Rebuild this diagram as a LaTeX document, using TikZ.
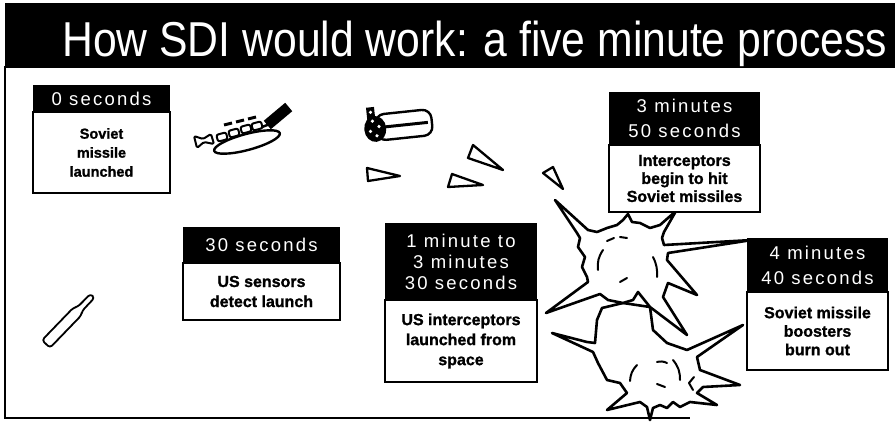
\documentclass[tikz,border=0pt]{standalone}
\usepackage{fontspec}
\setmainfont{Liberation Sans}
\newcommand\headfont[1]{\fontsize{18.5}{#1}\selectfont\addfontfeature{LetterSpace=12}}
\newcommand\bodyfont[2]{\fontsize{#1}{#2}\selectfont\bfseries\addfontfeature{FakeBold=1.2}}
\begin{document}
\begin{tikzpicture}[x=1pt,y=-1pt,
  hdr/.style={fill=black,text=white,inner sep=0pt,outer sep=0pt,anchor=north west,align=center},
  bodybox/.style={draw=black,line width=1.4pt,fill=white,inner sep=0pt,outer sep=0pt,anchor=north west,align=center},
  ink/.style={line width=2.3pt,line join=round,line cap=round},
  boom/.style={ink,line width=2.6pt,fill=white},
  dart/.style={ink,fill=white}]
\useasboundingbox (0,0) rectangle (895,425);

% title bar and frame
\fill (5,3) rectangle (895,68);
\node[anchor=base west,inner sep=0pt,text=white] (title) at (62,57)
  {\resizebox{825pt}{\height}{\fontsize{49}{49}\selectfont How SDI would work: a five minute process}};
\draw[line width=1.3pt] (5,66) -- (5,418) -- (690,418);

% launched missile
\begin{scope}[shift={(46,344)},rotate=46]
  \draw[ink,line width=1.8pt,rounded corners=3pt]
    (0,-5.5) -- (45,-5.5) -- (49,-3) -- (67,-2.8) -- (67,2.8) -- (49,3) -- (45,5.5) -- (0,5.5) -- cycle;
\end{scope}

% sensor satellite with ring
\draw[ink,line width=2.4pt,rotate around={15:(247,142)}] (247,142) ellipse [x radius=34,y radius=8];
\fill[rotate around={40:(278,116)}] (264,110.5) rectangle (292,121.5);
\draw[ink,line width=2pt,rounded corners=1.5pt]
  (194,136) -- (203,139) -- (211,134) -- (214,144) -- (204,142) -- (197,148) -- cycle;
\foreach \px/\py in {222/137,234/133,246/129,257/126}
  \draw[ink,line width=2pt,rounded corners=2pt,rotate around={15:(\px,\py)}] (\px-5,\py-3.5) rectangle (\px+5,\py+3.5);
\foreach \px/\py in {228/124,240/121,252/118}
  \draw[line width=3pt] (\px-4,\py+1) -- (\px+4,\py-1);
\draw[line width=2.5pt] (262,127) -- (270,124);

% space-based launcher
\begin{scope}[rotate around={6:(403,125)}]
  \draw[ink,line width=2.4pt,fill=white,rounded corners=9pt] (376,112) rectangle (432,138);
  \draw[line width=3pt] (384,125) -- (428,125);
  \fill (375,126) ellipse [x radius=11,y radius=13];
  \fill (368,104) rectangle (376,117);
  \foreach \px/\py in {372/109,373/118,379/124,370/128,376/133}
    \fill[white] (\px,\py) circle [radius=1.8];
\end{scope}

% interceptors
\draw[dart] (367,168) -- (368,181) -- (400,176) -- cycle;
\draw[dart] (452,174) -- (448,187) -- (483,185) -- cycle;
\draw[dart] (473,145) -- (468,158) -- (503,170) -- cycle;
\draw[dart] (543,173) -- (553,167) -- (563,189) -- cycle;

% lower burst
\draw[boom] (552,333) -- (587,342) -- (595,343) -- (597,320) -- (602,308) -- (623,303) -- (650,307)
  -- (653,330) -- (667,343) -- (687,350) -- (743,325) -- (697,357) -- (700,370) -- (740,385)
  -- (703,387) -- (697,393) -- (717,405) -- (690,402) -- (680,407) -- (673,402) -- (667,408)
  -- (660,405) -- (653,408) -- (650,420) -- (647,407) -- (640,402) -- (607,410) -- (627,393)
  -- (620,383) -- (607,380) -- (598,363) -- (593,352) -- cycle;
\draw[ink,line width=2pt] (637,365) to[bend right=20] (630,381);
\draw[ink,line width=2pt] (657,362) to[bend left=20] (667,363);
\draw[ink,line width=2pt] (673,360) to[bend left=20] (680,380);
\draw[ink,line width=2pt] (657,384) -- (665,387);
\draw[ink,line width=2pt] (694,377) -- (689,383) -- (693,390);

% upper burst
\draw[boom] (555,200) -- (588,230) -- (597,232) -- (607,228) -- (617,225) -- (623,220) -- (628,214)
  -- (632,222) -- (640,223) -- (650,228) -- (660,225) -- (676,211) -- (664,232) -- (662,238)
  -- (664,245) -- (752,240) -- (668,253) -- (667,260) -- (697,295) -- (668,283) -- (663,297)
  -- (687,335) -- (650,307) -- (638,292) -- (633,300) -- (623,303) -- (608,300) -- (600,294)
  -- (546,313) -- (588,282) -- (587,277) -- (582,267) -- (585,257) -- (578,247) -- (580,238)
  -- (577,233) -- cycle;
\draw[ink,line width=2pt] (607,241) -- (614,238);
\draw[ink,line width=2pt] (620,237) -- (627,238);
\draw[ink,line width=2pt] (603,250) to[bend right=20] (598,270);
\draw[ink,line width=2pt] (653,257) to[bend left=15] (657,277);
\draw[ink,line width=2pt] (620,282) -- (627,278);

% time boxes
\node[hdr,minimum width=137pt,minimum height=27pt,font={\headfont{24}}] (h1) at (33,85) {0 seconds};
\node[bodybox,minimum width=137pt,minimum height=81pt,font={\bodyfont{14.5}{19}}] (b1) at (h1.south west) {Soviet\\missile\\launched};

\node[hdr,minimum width=157pt,minimum height=36pt,font={\headfont{24}}] (h2) at (183,227) {30 seconds};
\node[bodybox,minimum width=157pt,minimum height=57pt,font={\bodyfont{16}{20}}] (b2) at (h2.south west) {US sensors\\detect launch};

\node[hdr,minimum width=152pt,minimum height=77pt,font={\headfont{21}}] (h3) at (385,223) {1 minute to\\3 minutes\\30 seconds};
\node[bodybox,minimum width=152pt,minimum height=82pt,font={\bodyfont{16}{20}}] (b3) at (h3.south west) {US interceptors\\launched from\\space};

\node[hdr,minimum width=151pt,minimum height=53pt,font={\headfont{25}}] (h4) at (609,92) {3 minutes\\50 seconds};
\node[bodybox,minimum width=151pt,minimum height=67pt,font={\bodyfont{16}{18}}] (b4) at (h4.south west) {Interceptors\\begin to hit\\Soviet missiles};

\node[hdr,minimum width=141pt,minimum height=54pt,font={\headfont{25}}] (h5) at (747,238) {4 minutes\\40 seconds};
\node[bodybox,minimum width=141pt,minimum height=78pt,font={\bodyfont{16}{18.5}}] (b5) at (h5.south west) {Soviet missile\\boosters\\burn out};
\end{tikzpicture}
\end{document}
